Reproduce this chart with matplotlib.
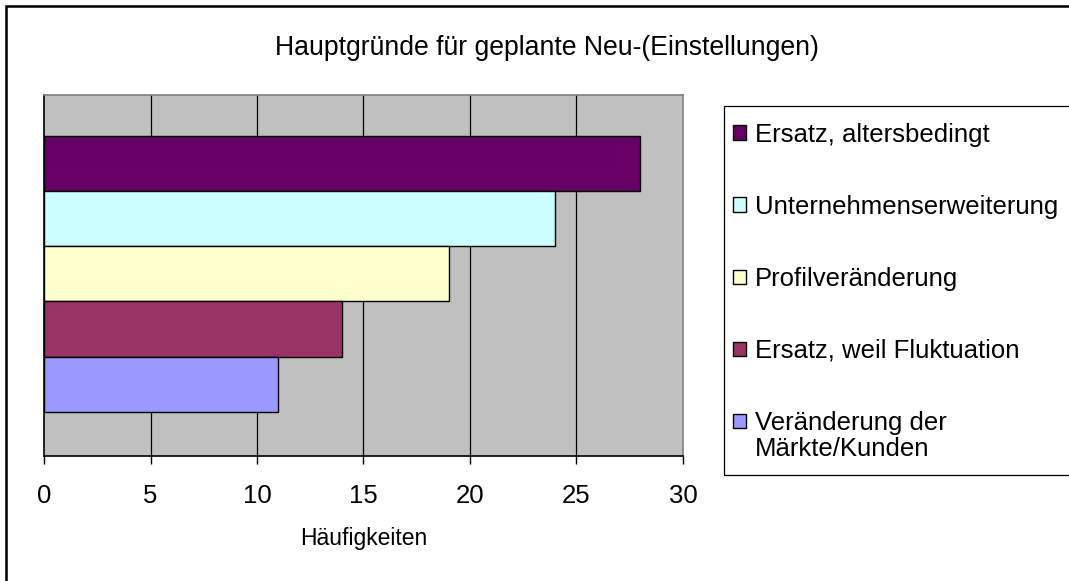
import matplotlib.pyplot as plt
from matplotlib.patches import Patch, Rectangle

# data
categories = ['Ersatz, altersbedingt', 'Unternehmenserweiterung', 'Profilveränderung',
              'Ersatz, weil Fluktuation', 'Veränderung der\nMärkte/Kunden']
values = [28, 24, 19, 14, 11]
colors = ['#660066', '#CCFFFF', '#FFFFCC', '#993366', '#9999FF']
x_ticks = [0, 5, 10, 15, 20, 25, 30]

plt.rcParams['font.family'] = ['Liberation Sans', 'DejaVu Sans']

W, H = 1069, 581
fig = plt.figure(figsize=(W / 100, H / 100), dpi=100)

# axes placed in pixel terms
left, right, top, bottom = 44, 683, 95, 456
ax = fig.add_axes([left / W, 1 - bottom / H, (right - left) / W, (bottom - top) / H])
ax.set_facecolor('#C0C0C0')

pos = list(range(len(values)))
ax.barh(pos, values, height=1.0, color=colors, edgecolor='black', linewidth=1, zorder=3)
ax.set_ylim(5.3, -1.24)
ax.set_xlim(0, 30)

ax.set_xticks(x_ticks)
ax.set_xticklabels([str(t) for t in x_ticks], fontsize=18.5)
ax.tick_params(axis='x', direction='out', length=6, width=1, pad=14)
ax.set_yticks([])
for t in x_ticks[1:-1]:
    ax.axvline(t, color='black', linewidth=0.9, zorder=1)

ax.spines['left'].set_color('black')
ax.spines['bottom'].set_color('black')
ax.spines['top'].set_color('#808080')
ax.spines['right'].set_color('#808080')
for s in ax.spines.values():
    s.set_linewidth(1.2)

ax.set_xlabel('Häufigkeiten', fontsize=16.5, labelpad=14)

fig.text(547 / W, 1 - 48 / H, 'Hauptgründe für geplante Neu-(Einstellungen)',
         fontsize=19.2, ha='center', va='center')

# legend: Excel puts the marker next to the first line of a wrapped label,
# so only the first line goes into the legend and the rest is placed below it
first_lines = [c.split('\n')[0] for c in categories]
handles = [Patch(facecolor=c, edgecolor='black', linewidth=1) for c in colors]
leg = fig.legend(handles, first_lines, loc='upper left', frameon=False,
                 bbox_to_anchor=(720 / W, 1 - 110 / H), fontsize=18.5,
                 handlelength=0.5, handleheight=0.5, handletextpad=0.35,
                 labelspacing=1.87, borderpad=0)
for c in categories:
    if '\n' in c:
        fig.text(755 / W, 1 - 449 / H, c.split('\n', 1)[1], fontsize=18.5,
                 ha='left', va='center')
fig.patches.append(Rectangle((724 / W, 1 - 475 / H), 360 / W, (475 - 106) / H,
                             transform=fig.transFigure, fill=False,
                             edgecolor='black', linewidth=0.9))

# outer chart border
fig.patches.append(Rectangle((6 / W, -0.05), 1.1, 1 - 6 / H + 0.05,
                             transform=fig.transFigure, fill=False,
                             edgecolor='black', linewidth=1.8))

fig.savefig('out.png', dpi=100)
